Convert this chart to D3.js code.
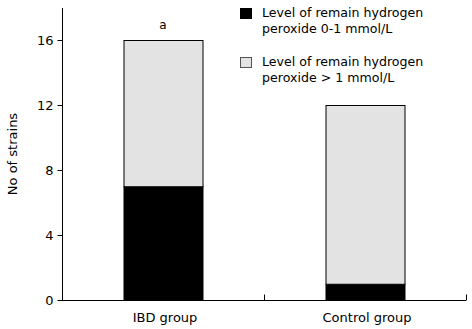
<!DOCTYPE html>
<html>
<head>
<meta charset="utf-8">
<script src="https://cdn.jsdelivr.net/npm/d3@7"></script>
<style>
  html, body { margin: 0; padding: 0; background: #fff; }
  svg { display: block; }
  text { font-family: "DejaVu Sans", Verdana, sans-serif; fill: #000; }
</style>
</head>
<body>
<svg id="chart" width="472" height="329"></svg>
<script>
// Groups along the x axis
const groups = ["IBD group", "Control group"];
// Strain counts per hydrogen peroxide level
const lowLevel = [7, 1];    // 0-1 mmol/L
const highLevel = [9, 11];  // > 1 mmol/L
const seriesNames = [
  ["Level of remain hydrogen", "peroxide 0-1 mmol/L"],
  ["Level of remain hydrogen", "peroxide > 1 mmol/L"]
];
const seriesColors = ["#000000", "#e3e3e3"];
const yTicks = [0, 4, 8, 12, 16];
const marks = ["a", ""];

const svg = d3.select("#chart");
const margin = { left: 62, right: 6, top: 8, bottom: 29 };
const W = 472, H = 329;

const x = d3.scaleBand()
  .domain(groups)
  .range([margin.left, W - margin.right])
  .paddingInner(0)
  .paddingOuter(0);

const y = d3.scaleLinear()
  .domain([0, 16])
  .range([H - margin.bottom, 40]);

const barW = 79;

// Stack the two series
const rows = groups.map((g, i) => ({ group: g, low: lowLevel[i], high: highLevel[i] }));
const stack = d3.stack().keys(["low", "high"])(rows);

svg.append("g")
  .selectAll("g")
  .data(stack)
  .join("g")
  .attr("fill", (d, i) => seriesColors[i])
  .selectAll("rect")
  .data(d => d)
  .join("rect")
  .attr("x", d => x(d.data.group) + x.bandwidth() / 2 - barW / 2 + 0.5)
  .attr("y", d => y(d[1]) + 0.5)
  .attr("width", barW)
  .attr("height", d => y(d[0]) - y(d[1]))
  .attr("stroke", "#000")
  .attr("stroke-width", 1);

// Significance mark above bars
svg.append("g")
  .selectAll("text")
  .data(rows)
  .join("text")
  .attr("x", (d, i) => x(d.group) + x.bandwidth() / 2)
  .attr("y", d => y(d.low + d.high) - 11)
  .attr("text-anchor", "middle")
  .attr("font-size", 12)
  .text((d, i) => marks[i]);

// Y axis
const yAxis = svg.append("g")
  .attr("transform", `translate(${margin.left + 0.5},0)`)
  .call(d3.axisLeft(y).tickValues(yTicks).tickSize(5).tickPadding(4).tickSizeOuter(0));
yAxis.select(".domain").attr("d", `M0,${margin.top}V${y(0) + 0.5}`);
yAxis.selectAll("text").attr("font-size", 13).attr("font-family", "DejaVu Sans");

// X axis with ticks between groups pointing inward
const xAxis = svg.append("g")
  .attr("transform", `translate(0,${y(0) + 0.5})`);
xAxis.append("line")
  .attr("x1", margin.left)
  .attr("x2", W - margin.right)
  .attr("stroke", "#000");
xAxis.selectAll(".tick")
  .data(groups)
  .join("line")
  .attr("class", "tick")
  .attr("x1", d => Math.round(x(d) + x.bandwidth()) + 0.5)
  .attr("x2", d => Math.round(x(d) + x.bandwidth()) + 0.5)
  .attr("y1", 0)
  .attr("y2", -6)
  .attr("stroke", "#000");
xAxis.selectAll("text")
  .data(groups)
  .join("text")
  .attr("x", d => x(d) + x.bandwidth() / 2 + 2)
  .attr("y", 21)
  .attr("text-anchor", "middle")
  .attr("font-size", 13)
  .text(d => d);

// Y axis title
svg.append("text")
  .attr("transform", `translate(17,${(margin.top + y(0)) / 2}) rotate(-90)`)
  .attr("text-anchor", "middle")
  .attr("font-size", 13)
  .text("No of strains");

// Legend
const legend = svg.append("g").attr("transform", "translate(240,0)");
seriesNames.forEach((lines, i) => {
  const gy = 8 + i * 49;
  legend.append("rect")
    .attr("x", 0.5)
    .attr("y", gy + 0.5)
    .attr("width", 11)
    .attr("height", 10)
    .attr("fill", seriesColors[i])
    .attr("stroke", i === 0 ? "#000" : "#555");
  lines.forEach((t, j) => {
    legend.append("text")
      .attr("x", 22)
      .attr("y", gy + 9 + j * 16)
      .attr("font-size", 12.6)
      .text(t);
  });
});
</script>
</body>
</html>
